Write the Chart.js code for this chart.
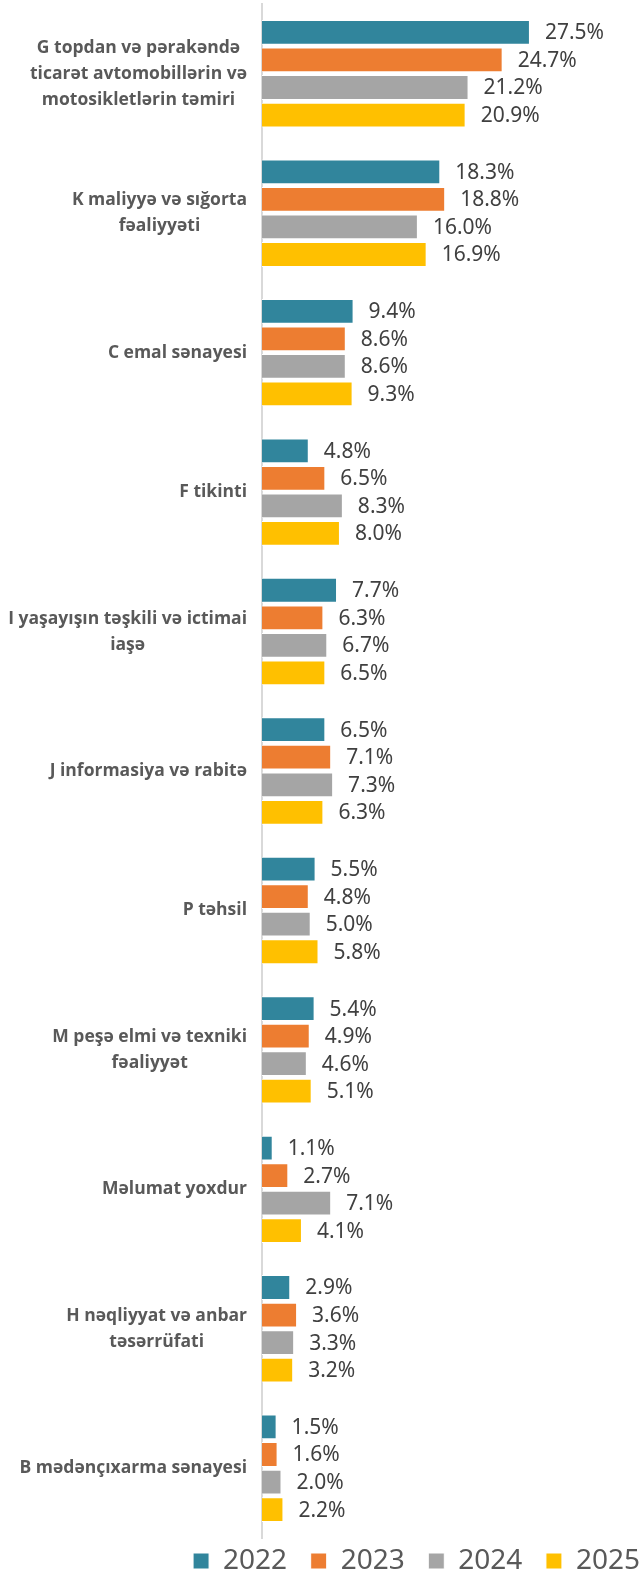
<!DOCTYPE html>
<html>
<head>
<meta charset="utf-8">
<script src="https://cdn.jsdelivr.net/npm/chart.js@4.4.1/dist/chart.umd.min.js"></script>
<style>
  body { margin: 0; background: #fff; }
  #wrap { width: 641px; height: 1574px; position: relative; }
</style>
</head>
<body>
<div id="wrap"><canvas id="barChart"></canvas></div>
<script>
// Category labels (each line of a label is one array item)
const categories = [
    ['G topdan və pərakəndə', 'ticarət avtomobillərin və', 'motosikletlərin təmiri'],
    ['K maliyyə və sığorta', 'fəaliyyəti'],
    ['C emal sənayesi'],
    ['F tikinti'],
    ['I yaşayışın təşkili və ictimai', 'iaşə'],
    ['J informasiya və rabitə'],
    ['P təhsil'],
    ['M peşə elmi və texniki', 'fəaliyyət'],
    ['Məlumat yoxdur'],
    ['H nəqliyyat və anbar', 'təsərrüfati'],
    ['B mədənçıxarma sənayesi']
];

// Shares by year, in %
const values2022 = [27.5, 18.3, 9.4, 4.8, 7.7, 6.5, 5.5, 5.4, 1.1, 2.9, 1.5];
const values2023 = [24.7, 18.8, 8.6, 6.5, 6.3, 7.1, 4.8, 4.9, 2.7, 3.6, 1.6];
const values2024 = [21.2, 16.0, 8.6, 8.3, 6.7, 7.3, 5.0, 4.6, 7.1, 3.3, 2.0];
const values2025 = [20.9, 16.9, 9.3, 8.0, 6.5, 6.3, 5.8, 5.1, 4.1, 3.2, 2.2];

const years = ['2022', '2023', '2024', '2025'];
const colors = ['#31859C', '#ED7D31', '#A5A5A5', '#FFC000'];

// Value labels at the end of each bar
const valueLabels = {
    id: 'valueLabels',
    afterDatasetsDraw(chart) {
        const ctx = chart.ctx;
        ctx.save();
        ctx.font = '21px "Noto Sans"';
        ctx.fillStyle = '#404040';
        ctx.textAlign = 'left';
        ctx.textBaseline = 'middle';
        chart.data.datasets.forEach((ds, di) => {
            chart.getDatasetMeta(di).data.forEach((bar, i) => {
                ctx.fillText(ds.data[i].toFixed(1) + '%', bar.x + 15, bar.y + 1);
            });
        });
        ctx.restore();
    }
};

// Category names: block right-aligned next to the axis, lines centred in the block
const categoryLabels = {
    id: 'categoryLabels',
    afterDraw(chart) {
        const ctx = chart.ctx;
        const yScale = chart.scales.y;
        const right = chart.chartArea.left - 15;
        const lineHeight = 26;
        ctx.save();
        ctx.font = 'bold 17.5px "Open Sans"';
        ctx.fillStyle = '#595959';
        ctx.textAlign = 'center';
        ctx.textBaseline = 'middle';
        chart.data.labels.forEach((lines, i) => {
            const yc = yScale.getPixelForValue(i);
            const w = Math.max(...lines.map(l => ctx.measureText(l).width));
            const cx = right - w / 2;
            const y0 = yc - (lines.length - 1) * lineHeight / 2;
            lines.forEach((l, k) => ctx.fillText(l, cx, y0 + k * lineHeight));
        });
        ctx.restore();
    }
};

const seriesValues = [values2022, values2023, values2024, values2025];

const chartData = {
    labels: categories,
    datasets: years.map((y, i) => ({
        label: y,
        data: seriesValues[i],
        backgroundColor: colors[i],
        borderColor: '#ffffff',
        borderWidth: 1,
        categoryPercentage: 0.79,
        barPercentage: 0.9,
    })),
};

const chartOptions = {
    indexAxis: 'y',
    responsive: true,
    maintainAspectRatio: false,
    animation: false,
    layout: { padding: { top: 4, right: -8, left: 0, bottom: -11 } },
    scales: {
        x: {
            display: false,
            min: 0,
            max: 38.9,
        },
        y: {
            grid: { display: true, color: 'transparent', drawTicks: false },
            border: { display: true, color: '#D9D9D9', width: 2 },
            ticks: { display: false },
            afterFit(scale) { scale.width = 262; },
        },
    },
    plugins: {
        legend: {
            position: 'bottom',
            align: 'end',
            labels: {
                color: '#595959',
                font: { family: 'Noto Sans', size: 28, lineHeight: 1 },
                boxWidth: 16,
                boxHeight: 16,
                padding: 9,
                // widen all but the last item so the items sit further apart
                generateLabels(chart) {
                    const items = Chart.defaults.plugins.legend.labels.generateLabels(chart);
                    items.forEach((it, i) => {
                        if (i < items.length - 1) it.text = it.text + '  ';
                    });
                    return items;
                },
            },
        },
        tooltip: { enabled: false },
    },
};

const ctx = document.getElementById('barChart').getContext('2d');
const barChart = new Chart(ctx, {
    type: 'bar',
    data: chartData,
    options: chartOptions,
    plugins: [valueLabels, categoryLabels],
});
</script>
</body>
</html>
